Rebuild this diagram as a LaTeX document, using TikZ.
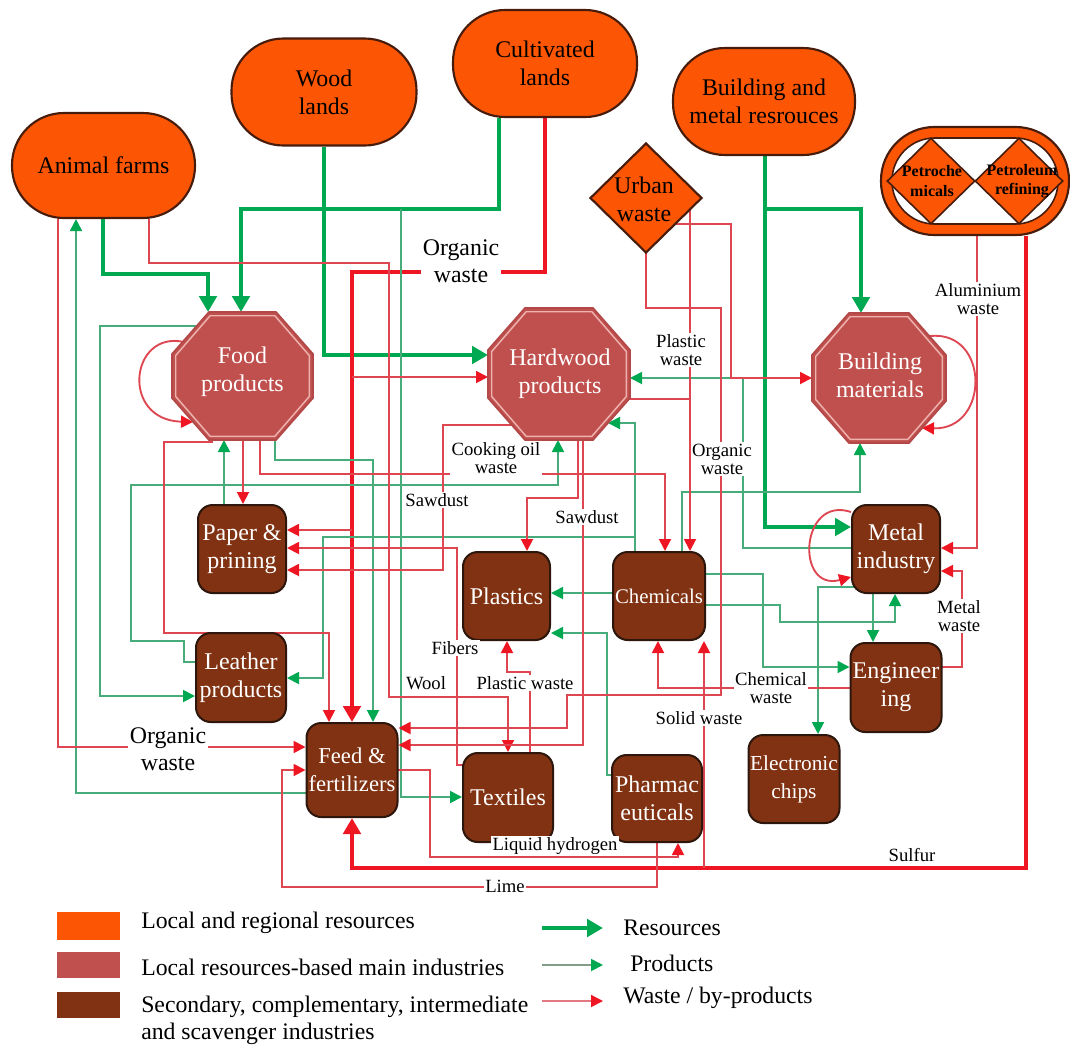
\documentclass[tikz,border=0pt]{standalone}
\usepackage{fontspec}
\setmainfont{Liberation Serif}
\usetikzlibrary{arrows.meta,shapes.geometric,backgrounds,calc}
\definecolor{resorange}{RGB}{252,86,4}
\definecolor{bdark}{RGB}{72,28,12}
\definecolor{octfill}{RGB}{192,80,78}
\definecolor{octedge}{RGB}{178,72,72}
\definecolor{octlight}{RGB}{238,178,175}
\definecolor{brownf}{RGB}{128,50,18}
\definecolor{bbord}{RGB}{45,22,12}
\definecolor{resgreen}{RGB}{0,168,82}
\definecolor{prodgreen}{RGB}{72,172,122}
\definecolor{wastered}{RGB}{222,70,82}
\definecolor{arrred}{RGB}{238,22,34}
\definecolor{leggrey}{RGB}{130,160,135}
\definecolor{legpink}{RGB}{225,120,130}
\newcommand\dgBig{\fontsize{17.9}{21}\selectfont}
\newcommand\dgBox{\fontsize{18}{21}\selectfont}
\newcommand\dgSmall{\fontsize{14}{13.5}\selectfont}
\newcommand\dgPet{\fontsize{12}{14.5}\selectfont\bfseries}
\newcommand\dgLeg{\fontsize{17.8}{20.3}\selectfont}
\newcommand\dgOct[1]{%
\path[fill=octfill,draw=octedge,line width=1.3pt]
 ([xshift=27.75pt]#1.north west) -- ([xshift=-27.75pt]#1.north east) --
 ([yshift=-31.5pt]#1.north east) -- ([yshift=31.5pt]#1.south east) --
 ([xshift=-27.75pt]#1.south east) -- ([xshift=27.75pt]#1.south west) --
 ([yshift=31.5pt]#1.south west) -- ([yshift=-31.5pt]#1.north west) -- cycle;
\path[draw=octlight,line width=1.1pt]
 ([shift={(28.6pt,-2.8pt)}]#1.north west) -- ([shift={(-28.6pt,-2.8pt)}]#1.north east) --
 ([shift={(-2.8pt,-32.6pt)}]#1.north east) -- ([shift={(-2.8pt,32.6pt)}]#1.south east) --
 ([shift={(-28.6pt,2.8pt)}]#1.south east) -- ([shift={(28.6pt,2.8pt)}]#1.south west) --
 ([shift={(2.8pt,32.6pt)}]#1.south west) -- ([shift={(2.8pt,-32.6pt)}]#1.north west) -- cycle;}
\tikzset{
 resnode/.style={draw=bdark, line width=1.6pt, fill=resorange, rounded corners=39pt, align=center, font=\dgBig, inner sep=0pt},
 octbox/.style={shape=rectangle, inner sep=0pt, outer sep=0pt},
 octtxt/.style={text=white, align=center, font=\dgBox, inner sep=0pt},
 boxnode/.style={draw=bbord, line width=1.5pt, fill=brownf, rounded corners=11pt, text=white, align=center, font=\dgBox, inner sep=0pt},
 resline/.style={draw=resgreen, line width=3pt, -{Triangle[length=12pt,width=13pt]}},
 prodline/.style={draw=prodgreen, line width=1.4pt, -{Triangle[length=9pt,width=9pt,color=resgreen]}},
 wasteline/.style={draw=wastered, line width=1.4pt, -{Triangle[length=9pt,width=9pt,color=arrred]}},
 bigwaste/.style={draw=arrred, line width=3pt, -{Triangle[length=12pt,width=13pt]}},
 lbl/.style={fill=white, inner sep=1pt, align=center, font=\dgSmall},
 biglbl/.style={fill=white, inner sep=1pt, align=center, font=\fontsize{17.9}{20}\selectfont},
 legtxt/.style={anchor=west, align=left, font=\dgLeg, inner sep=0pt},
}
\begin{document}
\begin{tikzpicture}[x=0.75pt,y=-0.75pt]
\useasboundingbox (0,0) rectangle (1070,1047);

% ---------- resources ----------
\node[resnode, minimum width=137.25pt, minimum height=78.75pt] (animal) at (103.5,165.5) {Animal farms};
\node[resnode, minimum width=138.75pt, minimum height=80.25pt] (wood) at (324,92) {Wood\\lands};
\node[resnode, minimum width=138pt, minimum height=80.25pt] (cult) at (545,63.5) {Cultivated\\lands};
\node[resnode, minimum width=136.5pt, minimum height=80.25pt] (build) at (764,101.5) {Building and\\metal resrouces};
\node[diamond, draw=bdark, line width=1.6pt, fill=resorange, minimum width=84pt, minimum height=82.5pt, inner sep=0pt] (urban) at (646,198) {};
\node[align=center, font=\dgBig, inner sep=0pt] (urbantxt) at (644,199) {Urban\\waste};
\node[resnode, minimum width=141pt, minimum height=81pt, rounded corners=40pt] (petro) at (975,181) {};
\node[draw=bdark, line width=1.2pt, fill=white, minimum width=124.5pt, minimum height=64.5pt, rounded corners=32pt, inner sep=0pt] (petroin) at (975,181) {};
\node[diamond, draw=bdark, line width=1.2pt, fill=resorange, minimum width=66pt, minimum height=64.5pt, inner sep=0pt] (petchem) at (931,181) {};
\node[diamond, draw=bdark, line width=1.2pt, fill=resorange, minimum width=66pt, minimum height=64.5pt, inner sep=0pt] (petref) at (1019,181) {};
\node[font=\dgPet, align=center, inner sep=0pt] (petchemtxt) at (932,181) {Petroche\\micals};
\node[font=\dgPet, align=center, inner sep=0pt] (petreftxt) at (1022,181) {Petroleum\\refining};

% ---------- main industries ----------
\node[octbox, minimum width=105.75pt, minimum height=96pt] (food) at (242.5,376) {};
\dgOct{food}
\node[octtxt] (foodtxt) at (242.5,372) {Food\\products};
\node[octbox, minimum width=106.5pt, minimum height=99pt] (hard) at (559,374) {};
\dgOct{hard}
\node[octtxt] (hardtxt) at (560,374) {Hardwood\\products};
\node[octbox, minimum width=100.5pt, minimum height=97.5pt] (bmat) at (879,378) {};
\dgOct{bmat}
\node[octtxt] (bmattxt) at (880,375) {Building\\materials};

% ---------- secondary industries ----------
\node[boxnode, minimum width=66pt, minimum height=66pt] (paper) at (242,549) {Paper \&\\prining};
\node[boxnode, minimum width=65.25pt, minimum height=66pt] (plastics) at (506.5,596) {Plastics};
\node[boxnode, minimum width=69pt, minimum height=66pt, font=\fontsize{15.6}{19}\selectfont] (chem) at (659,596) {Chemicals};
\node[boxnode, minimum width=66pt, minimum height=66pt] (metal) at (896,549) {Metal\\industry};
\node[boxnode, minimum width=67.5pt, minimum height=66.75pt] (leather) at (241,677.5) {Leather\\products};
\node[boxnode, minimum width=68.25pt, minimum height=70.5pt, font=\fontsize{17}{21}\selectfont] (feed) at (352,770) {Feed \&\\fertilizers};
\node[boxnode, minimum width=67.5pt, minimum height=66.75pt] (textiles) at (508,797.5) {Textiles};
\node[boxnode, minimum width=67.5pt, minimum height=65.25pt] (pharma) at (657,798.5) {Pharmac\\euticals};
\node[boxnode, minimum width=68.25pt, minimum height=66.75pt] (eng) at (896,687.5) {Engineer\\ing};
\node[boxnode, minimum width=68.25pt, minimum height=66pt, font=\fontsize{16}{21}\selectfont] (elec) at (794,779) {Electronic\\chips};

\coordinate (cbr) at (401,209);
\coordinate (ow1) at (352,377);
\coordinate (ow2) at (352,530);
\coordinate (sw) at (704,868);

% ---------- connectors ----------
\begin{scope}[on background layer]
% resources
\draw[resline] (animal.south -| 103,0) |- (208,274) -- (food.north -| 208,0);
\draw[resline] (cult.south -| 499,0) |- (241,209) -- (food.north -| 241,0);
\draw[resline] (wood.south -| 324,0) |- (hard.west |- 0,355);
\draw[resline] (build.south -| 765,0) |- (861,209) -- (bmat.north -| 861,0);
\draw[resline] (build.south -| 765,0) |- (metal.west |- 0,527);
% thick waste
\draw[bigwaste] (cult.south -| 545,0) |- (352,272) -- (feed.north -| 352,0);
\draw[bigwaste] (petro.south -| 1026,0) |- (352,868) -- (feed.south -| 352,0);
% products
\draw[prodline] (feed.west |- 0,793) -| (animal.south -| 76,0);
\draw[prodline] (cbr) |- (textiles.west |- 0,797);
\draw[prodline] (food.center |- 0,326) -- (100,326) |- (leather.west |- 0,696);
\draw[prodline] (food.center -| 275,0) |- (373,460) -- (feed.north -| 373,0);
\draw[prodline] (paper.north -| 224,0) -- (food.south -| 224,0);
\draw[prodline] (leather.center |- 0,662) -- (184,662) |- (131,641) |- (558,485) -- (hard.south -| 558,0);
\draw[prodline] (chem.center -| 635,0) -- (635,423) -- ($(hard.south east)+(-22,-17)$);
\draw[prodline] (chem.center -| 635,0) |- (323,537) |- (leather.east |- 0,678);
\draw[prodline] (chem.west |- 0,593) -- (plastics.east |- 0,593);
\draw[prodline] (chem.center -| 682,0) |- (860,492) -- (bmat.south -| 860,0);
\draw[prodline] (chem.center |- 0,574) -| (763,667) -- (eng.west |- 0,667);
\draw[prodline] (chem.center |- 0,605) -| (780,622) -| (metal.south -| 895,0);
\draw[prodline] (metal.center |- 0,548) -| (743,378) -- (hard.east |- 0,378);
\draw[prodline] (metal.south -| 873,0) -- (eng.north -| 873,0);
\draw[prodline] (metal.center |- 0,587) -| (elec.north -| 818,0);
\draw[prodline] (pharma.center |- 0,775) -| (607,633) -- (plastics.east |- 0,633);
% waste
\draw[wasteline] (animal.south -| 149,0) |- (389,263) |- (508,697) -- (textiles.north -| 508,0);
\draw[wasteline] (animal.south -| 58,0) |- (feed.west |- 0,747);
\draw[wasteline] ($(food.south)+(-30,2)$) -- (164,442) |- (329,633) -- (feed.north -| 329,0);
\draw[wasteline] (food.south -| 243,0) -- (paper.north -| 243,0);
\draw[wasteline] (food.center -| 260,0) |- (665,474) -- (chem.north -| 665,0);
\draw[wasteline] (ow1) -- (hard.west |- 0,377);
\draw[wasteline] (ow2) -- (paper.east |- 0,530);
\draw[wasteline] (textiles.center |- 0,765) -- (457,765) |- (paper.east |- 0,548);
\draw[wasteline] (hard.center |- 0,425) -- (443,425) |- (paper.east |- 0,570);
\draw[wasteline] (hard.center -| 578,0) |- (527,498) -- (plastics.north -| 527,0);
\draw[wasteline] (hard.center -| 583,0) |- (feed.east |- 0,745);
\draw[wasteline,-] (hard.center |- 0,399) -- (690,399);
\draw[wasteline] (urban.center -| 690,0) -- (chem.north -| 690,0);
\draw[wasteline] (urban.center |- 0,224) -| (731,378) -- (bmat.west |- 0,378);
\draw[wasteline] (urban.center) |- (721,308) |- (567,695) |- (feed.east |- 0,728);
\draw[wasteline] (textiles.center -| 530,0) |- (507,672) -- (plastics.south -| 507,0);
\draw[wasteline] (feed.center |- 0,770) -| (430,857) -| (pharma.south -| 678,0);
\draw[wasteline] (pharma.center) |- (282,887) |- (feed.west |- 0,770);
\draw[wasteline] (eng.center |- 0,688) -| (chem.south -| 658,0);
\draw[wasteline] (eng.center |- 0,667) -| (962,571) -- (metal.east |- 0,571);
\draw[wasteline] (petro.south -| 977,0) |- (metal.east |- 0,548);
\draw[wasteline] (sw) -- (chem.south -| 704,0);
% self loops
\draw[wasteline] ($(food.north west)+(12,30)$) .. controls (130,330) and (120,420) .. ($(food.south west)+(21,-18)$);
\draw[wasteline] ($(bmat.north east)+(-16,23)$) .. controls (990,330) and (990,430) .. ($(bmat.south east)+(-24,-15)$);
\draw[wasteline] (metal.west |- 0,512) .. controls (800,495) and (795,592) .. (metal.west |- 0,577);
\end{scope}

% ---------- labels ----------
\node[biglbl] (lorg1) at (461,261) {Organic\\waste};
\node[biglbl] (lorg2) at (168,749) {Organic\\waste};
\node[lbl] (lplw1) at (681,350) {Plastic\\waste};
\node[lbl] (lorg3) at (722,459) {Organic\\waste};
\node[lbl] (lalu) at (978,299) {Aluminium\\waste};
\node[lbl] (lcook) at (496,458) {Cooking oil\\waste};
\node[lbl] (lsaw1) at (437,500) {Sawdust};
\node[lbl] (lsaw2) at (587,517) {Sawdust};
\node[lbl] (lmetw) at (959,616) {Metal\\waste};
\node[lbl] (lfib) at (455,648) {Fibers};
\node[lbl, inner sep=0.5pt] (lwool) at (426,683) {Wool};
\node[lbl] (lplw2) at (525,683) {Plastic waste};
\node[lbl] (lchw) at (771,688) {Chemical\\waste};
\node[lbl] (lsolid) at (699,718) {Solid waste};
\node[lbl] (llh) at (555,846) {Liquid hydrogen};
\node[lbl] (llime) at (505,886) {Lime};
\node[lbl] (lsulf) at (912,855) {Sulfur};

% ---------- legend ----------
\node[fill=resorange, minimum width=47.25pt, minimum height=21pt, inner sep=0pt] (lg1) at (88.5,926) {};
\node[fill=octfill, minimum width=47.25pt, minimum height=20pt, inner sep=0pt] (lg2) at (88.5,965) {};
\node[fill=brownf, minimum width=47.25pt, minimum height=20pt, inner sep=0pt] (lg3) at (88.5,1005) {};
\node[legtxt] (lt1) at (141,923) {Local and regional resources};
\node[legtxt] (lt2) at (141,967) {Local resources-based main industries};
\node[legtxt] (lt3) at (141,1020.5) {Secondary, complementary, intermediate\\and scavenger industries};
\coordinate (la1) at (542,928); \coordinate (lb1) at (603,928);
\coordinate (la2) at (542,965); \coordinate (lb2) at (603,965);
\coordinate (la3) at (542,1001); \coordinate (lb3) at (603,1001);
\draw[resline] (la1) -- (lb1);
\draw[prodline, draw=leggrey] (la2) -- (lb2);
\draw[wasteline, draw=legpink] (la3) -- (lb3);
\node[legtxt] (lt4) at (623,928) {Resources};
\node[legtxt] (lt5) at (630,963) {Products};
\node[legtxt] (lt6) at (623,998) {Waste / by-products};
\end{tikzpicture}
\end{document}
